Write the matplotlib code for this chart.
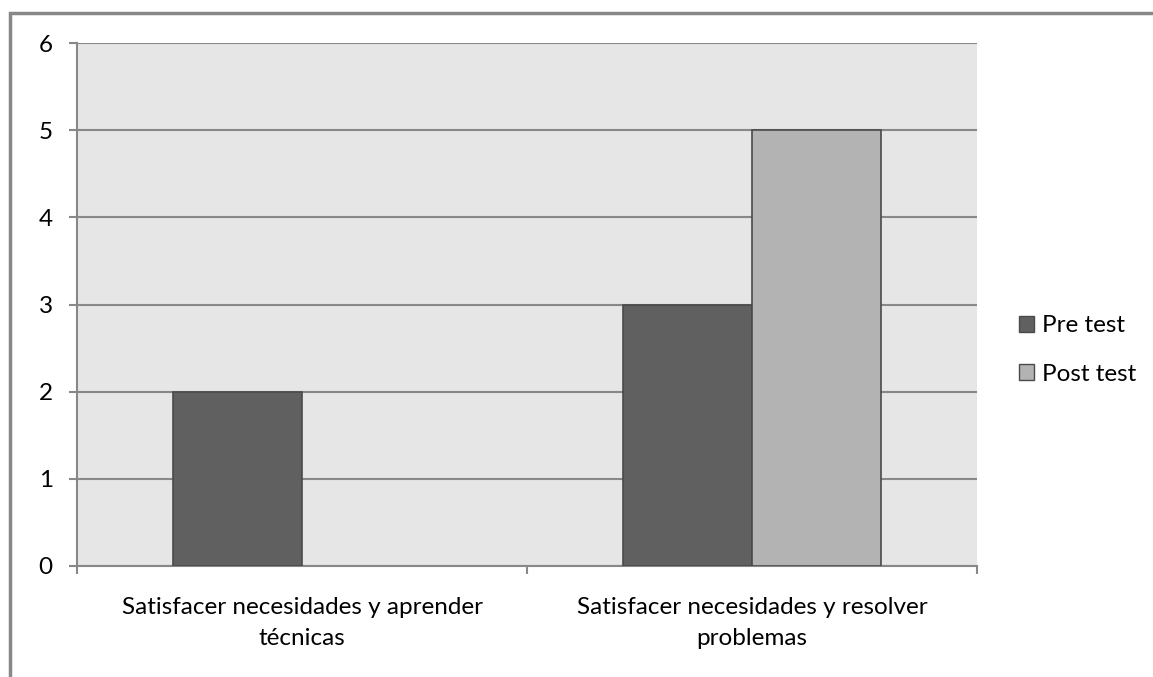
import matplotlib.pyplot as plt
import numpy as np
from matplotlib.patches import Rectangle, Patch

# categories and series
categories = ["Satisfacer necesidades y aprender\ntécnicas",
              "Satisfacer necesidades y resolver\nproblemas"]
pre_test = [2, 3]
post_test = [0, 5]
y_ticks = [0, 1, 2, 3, 4, 5, 6]

plt.rcParams['font.family'] = ['Lato', 'DejaVu Sans']
fs = 17.5

fig = plt.figure(figsize=(11.53, 6.77), dpi=100)
ax = fig.add_axes([77 / 1153, 1 - 566 / 677, 900 / 1153, 523 / 677])

# outer frame of the chart area
fig.patches.append(Rectangle((10 / 1153, -0.1), 1.2, (677 - 13) / 677 + 0.1,
                             transform=fig.transFigure, fill=False,
                             edgecolor='#888888', linewidth=2.5))

x = np.arange(len(categories))
w = 0.287
pre_lw = [1.2 if v else 0 for v in pre_test]
post_lw = [1.2 if v else 0 for v in post_test]
ax.bar(x - w / 2, pre_test, w, color='#606060', edgecolor='#4a4a4a',
       linewidth=pre_lw, label='Pre test', zorder=3)
ax.bar(x + w / 2, post_test, w, color='#b3b3b3', edgecolor='#4a4a4a',
       linewidth=post_lw, label='Post test', zorder=3)

ax.set_facecolor('#e6e6e6')
ax.set_xlim(-0.5, 1.5)
ax.set_ylim(0, 6)
ax.set_yticks(y_ticks)
ax.grid(axis='y', color='#888888', linewidth=1.5, zorder=1)
ax.set_axisbelow(True)

ax.set_xticks([-0.5, 0.5, 1.5])
ax.set_xticklabels([])
ax.set_xticks(x, minor=True)
ax.set_xticklabels(categories, minor=True, fontsize=fs, linespacing=1.6)
ax.tick_params(axis='x', which='minor', length=0, pad=22)
ax.tick_params(axis='x', which='major', length=5.5, width=1.5, color='#888888')
ax.tick_params(axis='y', length=5.5, width=1.5, color='#888888',
               labelsize=fs, pad=12)

for s in ['top', 'right']:
    ax.spines[s].set_visible(False)
for s in ['left', 'bottom']:
    ax.spines[s].set_color('#888888')
    ax.spines[s].set_linewidth(1.5)

handles = [Patch(facecolor='#606060', edgecolor='#4a4a4a', label='Pre test'),
           Patch(facecolor='#b3b3b3', edgecolor='#4a4a4a', label='Post test')]
fig.legend(handles=handles, loc='center left',
           bbox_to_anchor=(997 / 1153, 1 - 350 / 677), frameon=False,
           fontsize=fs, handlelength=0.62, handleheight=0.62,
           handletextpad=0.35, labelspacing=1.12)

fig.savefig('out.png', dpi=100)
